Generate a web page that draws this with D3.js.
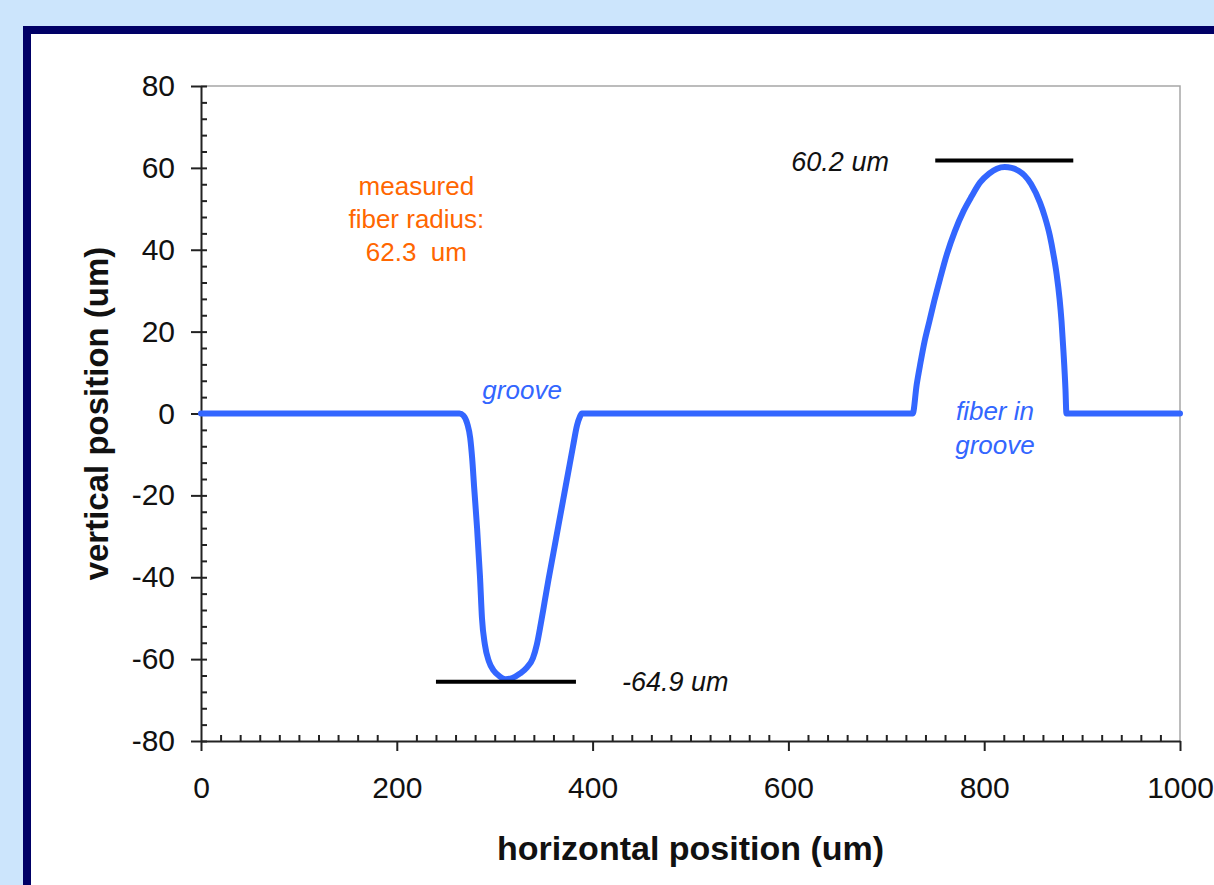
<!DOCTYPE html>
<html>
<head>
<meta charset="utf-8">
<script src="https://cdn.jsdelivr.net/npm/d3@7"></script>
<style>
  html, body { margin: 0; padding: 0; background: #cce5fc; overflow: hidden; }
  svg { display: block; }
  text { font-family: "Liberation Sans", Arial, sans-serif; }
</style>
</head>
<body>
<div id="chartContainer"></div>
<script>
// surface profile, horizontal position (um)
const profileX = [0, 100, 200, 264, 268, 272, 275, 277, 279, 282, 285, 287, 290, 294, 299, 305, 311,
    318, 326, 333, 339, 343, 347, 351, 355, 360, 365, 370, 375, 380, 384, 387, 389, 400,
    500, 600, 700, 727, 731, 735, 739, 744, 749, 755, 762, 770, 779, 787, 796, 805, 813, 821,
    828, 835, 841, 848, 857, 862, 867, 871, 874, 877, 879, 881, 883, 884, 886, 900, 1000];
// vertical position (um)
const profileY = [0, 0, 0, 0, -0.5, -2.5, -6, -11, -18, -28, -40, -50, -56.5, -60.5, -62.8, -64.2, -64.9,
    -64.6, -63.5, -62, -59.8, -56.5, -51.5, -46, -40.5, -34, -27.5, -21, -14.5, -8, -3, -0.8, 0, 0,
    0, 0, 0, 0, 7, 12.5, 17.5, 22.5, 27.5, 33, 39, 44.5, 49.5, 53, 56.5, 58.6, 59.8, 60.2,
    60, 59.3, 58.2, 56, 51.5, 48, 43.5, 38.5, 34, 28, 22.5, 15, 6, 0, 0, 0, 0];

const xTicks = [0, 200, 400, 600, 800, 1000];
const yTicks = [-80, -60, -40, -20, 0, 20, 40, 60, 80];

// annotation values
const peakLabel = '60.2 um';
const troughLabel = '-64.9 um';
const peakBar = { x0: 750, x1: 891, y: 61.8 };
const troughBar = { x0: 240, x1: 383, y: -65.5 };
const radiusNote = ['measured', 'fiber radius:', '62.3  um'];

const W = 1214, H = 885;
const margin = { top: 86, right: 34, bottom: 144, left: 201 };
const width = W - margin.left - margin.right;   // 979
const height = H - margin.top - margin.bottom;  // 655

const svgRoot = d3.select('#chartContainer').append('svg')
    .attr('width', W).attr('height', H);

// navy frame with white panel
svgRoot.append('rect')
    .attr('x', 27).attr('y', 30)
    .attr('width', W + 20).attr('height', H + 20)
    .attr('fill', '#fff')
    .attr('stroke', '#000066')
    .attr('stroke-width', 8);

const svg = svgRoot.append('g')
    .attr('transform', `translate(${margin.left},${margin.top})`);

const x = d3.scaleLinear().domain([0, 1000]).range([0, width]);
const y = d3.scaleLinear().domain([-80, 80]).range([height, 0]);

// plot box top / right edges
svg.append('path')
    .attr('d', `M0,0H${width}V${height}`)
    .attr('fill', 'none')
    .attr('stroke', '#a6a6a6')
    .attr('stroke-width', 1.5);

// minor ticks
svg.append('g')
    .attr('class', 'y-minor')
    .call(d3.axisLeft(y).tickValues(d3.range(-80, 81, 4)).tickSize(-6).tickFormat(''))
    .call(g => g.select('.domain').remove());
svg.append('g')
    .attr('class', 'x-minor')
    .attr('transform', `translate(0,${height})`)
    .call(d3.axisBottom(x).tickValues(d3.range(0, 1001, 20).filter(v => v % 200 !== 0)).tickSize(-6).tickFormat(''))
    .call(g => g.select('.domain').remove());

// major axes, plain integer labels with ascii minus
const plain = d => String(d);
svg.append('g')
    .attr('class', 'y-axis')
    .call(d3.axisLeft(y).tickValues(yTicks).tickSize(10).tickSizeOuter(0).tickPadding(16).tickFormat(plain));
svg.append('g')
    .attr('class', 'x-axis')
    .attr('transform', `translate(0,${height})`)
    .call(d3.axisBottom(x).tickValues(xTicks).tickSize(10).tickSizeOuter(0).tickPadding(26).tickFormat(plain));

svg.selectAll('.y-axis path, .y-axis line, .x-axis path, .x-axis line, .y-minor line, .x-minor line')
    .attr('stroke', '#222')
    .attr('stroke-width', 2);
svg.selectAll('.y-axis text, .x-axis text')
    .attr('fill', '#111')
    .style('font-family', '"Liberation Sans", Arial, sans-serif')
    .style('font-size', '30px');

// axis titles
svg.append('text')
    .attr('x', width / 2).attr('y', 774)
    .attr('text-anchor', 'middle')
    .style('font-size', '34px').style('font-weight', 'bold')
    .attr('fill', '#111')
    .text('horizontal position (um)');
svg.append('text')
    .attr('transform', `translate(${108 - margin.left},${height / 2}) rotate(-90)`)
    .attr('text-anchor', 'middle')
    .style('font-size', '33px').style('font-weight', 'bold')
    .attr('fill', '#111')
    .text('vertical position (um)');

// profile
const line = d3.line()
    .x((d, i) => x(profileX[i]))
    .y(d => y(d))
    .curve(d3.curveMonotoneX);
svg.append('path')
    .datum(profileY)
    .attr('d', line)
    .attr('fill', 'none')
    .attr('stroke', '#3366ff')
    .attr('stroke-width', 6)
    .attr('stroke-linejoin', 'round')
    .attr('stroke-linecap', 'round');

// black reference bars
[peakBar, troughBar].forEach(b => {
    svg.append('line')
        .attr('x1', x(b.x0)).attr('x2', x(b.x1))
        .attr('y1', y(b.y)).attr('y2', y(b.y))
        .attr('stroke', '#000').attr('stroke-width', 4);
});

svg.append('text')
    .attr('x', x(603)).attr('y', y(59.2))
    .style('font-size', '27px').style('font-style', 'italic')
    .attr('fill', '#111')
    .text(peakLabel);
svg.append('text')
    .attr('x', x(430)).attr('y', y(-67.9))
    .style('font-size', '27px').style('font-style', 'italic')
    .attr('fill', '#111')
    .text(troughLabel);

// blue labels
const blueLabels = [
    { t: 'groove', x: 328, y: 3.5 },
    { t: 'fiber in', x: 811, y: -1.5 },
    { t: 'groove', x: 811, y: -10 }
];
blueLabels.forEach(l => {
    svg.append('text')
        .attr('x', x(l.x)).attr('y', y(l.y))
        .attr('text-anchor', 'middle')
        .style('font-size', '26px').style('font-style', 'italic')
        .attr('fill', '#3366ff')
        .text(l.t);
});

// orange note
radiusNote.forEach((t, i) => {
    svg.append('text')
        .attr('x', x(220)).attr('y', 109 + i * 33)
        .attr('text-anchor', 'middle')
        .style('font-size', '26px')
        .style('white-space', 'pre')
        .attr('fill', '#ff6600')
        .text(t);
});
</script>
</body>
</html>
